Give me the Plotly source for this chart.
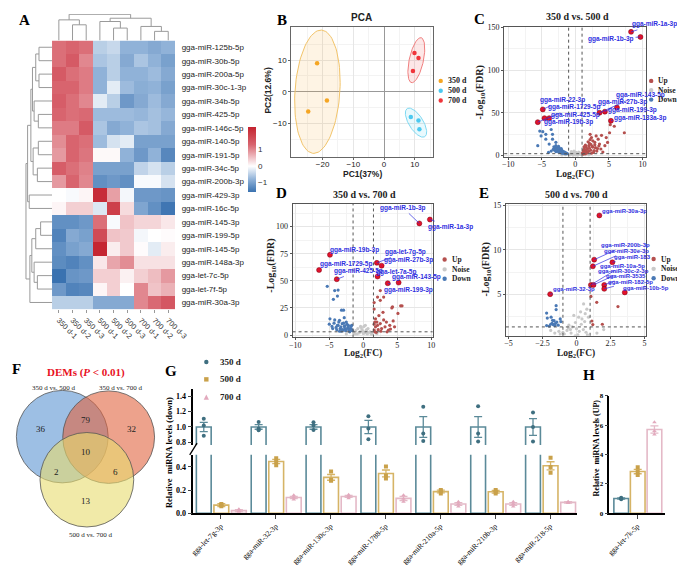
import plotly.graph_objects as go
import numpy as np

W, H = 685, 566
SERIF = "Liberation Serif"
SANS = "Liberation Sans"


def fx(p):
    return p / W


def fy(p):
    return 1 - p / H


# ===================== DATA =====================
# --- A: heatmap ---
heat_rows = ["gga-miR-125b-5p", "gga-miR-30b-5p", "gga-miR-200a-5p", "gga-miR-30c-1-3p",
             "gga-miR-34b-5p", "gga-miR-425-5p", "gga-miR-146c-5p", "gga-miR-140-5p",
             "gga-miR-191-5p", "gga-miR-34c-5p", "gga-miR-200b-3p", "gga-miR-429-3p",
             "gga-miR-16c-5p", "gga-miR-145-3p", "gga-miR-199-5p", "gga-miR-145-5p",
             "gga-miR-148a-3p", "gga-let-7c-5p", "gga-let-7f-5p", "gga-miR-30a-3p"]
heat_cols = ["350 d-1", "350 d-2", "350 d-3", "500 d-1", "500 d-2", "500 d-3",
             "700 d-1", "700 d-2", "700 d-3"]
heat_z = [
    [1.2, 1.3, 1.2, -0.5, -0.4, -0.8, -0.8, -0.9, -0.8],
    [1.2, 1.45, 1.0, -0.6, -0.5, -0.9, -0.6, -0.8, -1.0],
    [1.45, 1.2, 1.1, -0.8, -0.5, -0.8, -0.8, -0.7, -0.9],
    [1.3, 1.3, 1.1, -0.8, -0.2, -0.7, -0.85, -0.8, -1.0],
    [1.4, 1.2, 1.0, -0.2, -0.5, -1.1, -0.9, -0.7, -0.9],
    [1.3, 1.2, 1.25, -0.7, -0.7, -0.7, -0.75, -0.65, -0.75],
    [1.1, 1.1, 1.45, -0.6, -0.9, -0.8, -0.6, -0.65, -0.9],
    [0.95, 1.3, 1.2, -0.7, -0.3, -0.2, -1.0, -1.0, -1.0],
    [0.85, 1.3, 1.15, 0.05, 0.05, -0.8, -1.1, -0.8, -1.3],
    [1.4, 1.2, 1.05, -1.0, -1.0, -1.0, -0.45, -0.3, -0.5],
    [0.85, 1.3, 1.0, -1.2, -1.1, -1.2, -0.05, -0.05, -0.3],
    [0.0, -0.05, 0.08, 2.2, 0.8, -0.08, -1.1, -1.1, -1.15],
    [0.08, 0.4, 0.4, -0.25, 1.9, 0.3, -0.95, -1.2, -1.5],
    [-1.2, -1.2, -1.1, 1.2, -0.05, 0.5, 0.35, 0.35, 0.2],
    [-1.35, -0.9, -1.0, 1.7, 0.5, 0.45, -0.08, 0.0, 0.03],
    [-1.2, -1.0, -0.9, 2.3, 0.15, 0.45, 0.03, -0.2, 0.15],
    [-1.25, -1.35, -1.2, 0.2, 0.75, 0.95, 0.25, 0.25, 0.25],
    [-1.55, -1.15, -1.1, 0.4, 0.4, 0.12, 0.4, 0.55, 0.85],
    [-1.1, -1.35, -1.3, 0.08, 0.4, 0.0, 1.0, 0.5, 0.65],
    [-0.5, -0.5, -0.5, -0.9, -0.9, -0.9, 1.0, 1.25, 1.5],
]
# dendrogram merges: (child_a, child_b, height); ints = leaves, "nK" = K-th merge
col_merges = [(1, 2, 48), (0, "n0", 63), (4, 5, 38), (3, "n2", 58), (7, 8, 28),
              (6, "n4", 43), ("n3", "n5", 68), ("n1", "n6", 80)]
row_merges = [(0, 1, 40), (2, 3, 40), ("n0", "n1", 50), (5, 6, 42), (4, "n3", 55),
              ("n2", "n4", 60), (7, 8, 42), (9, 10, 45), ("n6", "n7", 58), ("n5", "n8", 65),
              (11, 12, 70), ("n9", "n10", 75), (13, 14, 35), ("n12", 15, 50), (17, 18, 45),
              (16, "n14", 55), ("n13", "n15", 62), ("n16", 19, 68), ("n11", "n17", 80)]

# --- B: PCA ---
pca_groups = ["350 d", "500 d", "700 d"]
pca_pc1 = {"350 d": [-21.8, -18.6, -24.7], "500 d": [8.7, 11.2, 11.5], "700 d": [9.9, 11.2, 9.4]}
pca_pc2 = {"350 d": [9.0, -2.8, -6.25], "500 d": [-8.0, -9.1, -11.9], "700 d": [12.3, 10.7, 6.6]}
# ellipse: centre x, centre y, semi-major, semi-minor, angle (deg)
pca_ellipse = {"350 d": (-21.7, 0.0, 19.6, 7.3, 86), "500 d": (10.4, -9.8, 5.3, 2.3, 123),
               "700 d": (10.5, 10.0, 7.3, 2.3, 77.5)}

# --- C: 350 d vs 500 d ---
C_up_x = [1.2, 1.4, 1.6, 1.8, 2.0, 2.2, 2.4, 2.6, 2.9, 3.1, 3.4, 3.6, 3.9, 4.4, 4.6, 4.8, 5.1, 5.2,
          5.8, 7.3, 1.1, 1.3, 1.5, 1.7, 1.9, 2.1, 2.3, 2.5, 2.7, 3.0, 3.2, 3.5, 3.8, 4.1, 1.2, 1.5,
          1.8, 2.1, 2.4, 2.8, 3.3, 1.3, 1.6, 2.0, 2.3, 2.6, 1.1, 1.4, 2.2, 2.9]
C_up_y = [5.7, 3.8, 9.5, 7.6, 11.4, 24.7, 20.9, 17.1, 15.2, 22.8, 19.0, 13.3, 23.6, 11.4, 20.9,
          15.2, 26.6, 36.1, 34.2, 26.6, 2.5, 7.0, 12.0, 4.5, 16.0, 8.5, 6.0, 10.5, 3.5, 9.0, 5.0,
          11.0, 7.5, 4.0, 1.5, 2.0, 3.0, 14.0, 2.5, 5.5, 8.0, 10.0, 6.5, 4.8, 13.0, 9.8, 3.2, 4.2,
          18.5, 12.5]
C_down_x = [-5.6, -5.3, -5.1, -4.85, -4.4, -3.6, -3.4, -3.4, -3.9, -2.9, -4.4, -3.2, -3.0, -2.8,
            -2.6, -2.4, -2.2, -2.0, -1.8, -1.6, -1.4, -3.1, -2.9, -2.7, -2.5, -2.3, -2.1, -1.9,
            -1.7, -1.5, -3.3, -2.8, -2.6, -2.4, -2.2, -2.0, -1.8, -1.3, -2.5, -2.9, -2.1, -1.6,
            -3.6, -4.0, -1.2]
C_down_y = [11.4, 28.5, 22.8, 27.8, 19.0, 30.4, 24.7, 19.0, 13.3, 15.3, 24.7, 10.0, 9.0, 8.0,
            7.5, 6.5, 5.5, 5.0, 4.5, 3.5, 3.0, 6.0, 4.5, 5.5, 4.0, 3.5, 3.0, 2.5, 2.5, 2.0, 7.0,
            7.0, 9.5, 8.5, 7.0, 6.0, 3.5, 2.0, 10.5, 11.5, 8.0, 4.0, 5.0, 3.5, 2.2]
C_noise_x = [-0.9, -0.7, -0.5, -0.3, -0.1, 0.1, 0.3, 0.5, 0.7, 0.9, -0.8, -0.4, 0.0, 0.4, 0.8,
             -0.6, -0.2, 0.2, 0.6, -1.5, 1.5, -2.0, 2.0, -0.3, 0.3]
C_noise_y = [1.0, 2.0, 1.5, 3.0, 2.5, 3.5, 2.0, 4.0, 1.5, 2.5, 0.5, 0.8, 1.2, 0.6, 1.0, 4.5, 5.0,
             1.8, 3.2, 0.8, 1.0, 0.5, 0.6, 0.3, 0.2]
C_lab = ["gga-miR-1a-3p", "gga-miR-1b-3p", "gga-miR-22-3p", "gga-miR-1729-5p", "gga-miR-425-5p",
         "gga-miR-19b-3p", "gga-miR-143-5p", "gga-miR-27b-3p", "gga-miR-199-3p", "gga-miR-133a-3p"]
C_lab_x = [8.3, 9.7, -4.85, -5.6, -3.9, -4.6, 3.6, 4.4, 6.2, 5.3]
C_lab_y = [145, 139, 54, 39, 43.7, 43.7, 50, 51.3, 56.3, 40.6]
C_txt_x = [11.86, 5.32, -1.95, -0.25, 0.0, -0.97, 9.68, 7.02, 8.47, 9.68]
C_txt_y = [153.8, 136.7, 64.6, 56.3, 47.5, 38.7, 71.4, 62.6, 53.2, 43.7]
C_fc, C_fdr = 1.0, 2.0

# --- D: 350 d vs 700 d ---
D_up_x = [1.6, 1.6, 2.1, 2.5, 4.3, 5.5, 5.1, 1.8, 2.0, 2.5, 3.0, 3.4, 3.9, 4.4, 4.6, 1.8, 1.6, 2.7,
          3.2, 3.7, 2.5, 3.0, 4.2, 5.7, 1.7, 1.9, 2.2, 2.6, 3.5, 4.0, 1.6, 2.3, 2.9, 1.7, 2.1]
D_up_y = [30, 24, 35, 32, 26, 27, 20, 15, 12, 10.6, 14, 12, 9, 13, 7.6, 7.6, 4.6, 6, 7.6, 4.6, 41,
          35, 25, 27, 3, 2.5, 5, 3.5, 3, 5.5, 10, 18, 21, 12, 9]
D_down_x = [-5.3, -4.2, -3.7, -4.4, -3.8, -3.2, -2.9, -4.9, -4.2, -3.5, -2.8, -5.0, -4.6, -4.3,
            -4.0, -3.7, -3.4, -3.1, -2.8, -2.5, -2.2, -1.9, -1.7, -3.9, -3.6, -3.3, -3.0, -2.7,
            -2.4, -2.1, -1.8, -3.5, -3.1, -2.6, -2.3, -2.0, -1.6, -4.5, -3.8, -2.9, -2.5, -2.2,
            -1.9, -1.7, -3.2, -2.7]
D_down_y = [45, 41, 41.5, 33, 36, 23, 23, 15, 14, 13.6, 16, 10, 8, 11, 7, 9, 6, 10.5, 8, 12, 9, 6,
            5, 5, 12, 7.5, 4.6, 6, 10, 5, 8, 3.5, 5, 4, 6.5, 3, 4, 6, 9, 11, 5, 7.5, 4, 9, 3.5, 8.5]
D_noise_x = [-1.4, -1.1, -0.8, -0.5, -0.2, 0.1, 0.4, 0.7, 1.0, 1.3, -1.2, -0.6, 0.0, 0.6, 1.2, -0.9,
             -0.3, 0.3, 0.9, -2.5, 2.0, -0.1, 0.2, 0.5, -0.4]
D_noise_y = [2, 4, 6, 3, 5, 8, 4, 6, 3, 2, 1, 2, 1.5, 1, 0.8, 1, 7, 9, 2.5, 1, 1.2, 3.5, 2, 5, 8]
D_lab = ["gga-miR-1b-3p", "gga-miR-1a-3p", "gga-miR-19b-3p", "gga-miR-1729-5p", "gga-miR-425-5p",
         "gga-let-7g-5p", "gga-miR-27b-3p", "gga-let-7a-5p", "gga-miR-143-5p", "gga-miR-199-3p"]
D_lab_x = [8.25, 9.8, -4.9, -6.5, -3.9, 2.0, 2.7, 2.1, 5.2, 3.6]
D_lab_y = [103, 106.6, 74, 60, 51.5, 66.6, 64, 54, 48.4, 47.8]
D_txt_x = [5.86, 12.9, -1.34, -2.55, -0.72, 6.19, 6.58, 4.75, 7.77, 6.58]
D_txt_y = [117.3, 100, 78.7, 65.1, 59.1, 76.6, 69.1, 58.5, 53.6, 41.8]
D_fc, D_fdr = 1.5, 3.0

# --- E: 500 d vs 700 d ---
E_up_x = [1.06, 1.49, 3.05, 1.13, 1.2, 1.9]
E_up_y = [4.74, 4.08, 3.6, 1.97, 1.56, 1.6]
E_down_x = [-2.2, -2.15, -1.5, -1.5, -1.87, -1.76, -1.2, -2.2, -2.0, -1.8, -1.7, -1.55, -1.45,
            -1.35, -1.6, -1.15, -1.9, -1.65]
E_down_y = [2.86, 2.3, 3.7, 3.26, 2.4, 2.05, 2.2, 1.45, 1.4, 1.7, 1.55, 1.7, 1.85, 1.5, 1.45, 1.9,
            1.6, 2.0]
E_noise_x = [0.52, 0.76, 0.64, 0.4, -0.08, 0.16, 0.88, -0.56, -0.32, 0.3, 0.6, -0.2, 0.0, -0.7,
             -1.0, -1.3, -1.6, -1.9, -0.9, -0.4, 0.2, 0.5, 0.8, -0.6, -1.2, 0.1, 0.7, -0.1, 0.35,
             -0.45, 1.5, 2.0]
E_noise_y = [3.9, 3.3, 2.8, 2.2, 1.8, 2.4, 2.4, 1.5, 1.3, 3.0, 1.9, 2.6, 1.1, 0.9, 0.7, 0.8, 0.6,
             0.9, 0.5, 0.6, 0.8, 1.0, 0.4, 1.2, 0.5, 0.4, 0.7, 0.3, 1.6, 1.0, 0.6, 1.0]
E_lab = ["gga-miR-30a-3p", "gga-miR-200b-3p", "gga-miR-30e-3p", "gga-miR-183", "gga-miR-10a-5p",
         "gga-miR-30c-2-3p", "gga-miR-3535", "gga-miR-182-5p", "gga-miR-10b-5p", "gga-miR-32-3p"]
E_lab_x = [1.68, 1.3, 1.2, 2.64, 1.06, 1.25, 2.04, 2.04, 3.55, -1.94]
E_lab_y = [13.9, 8.9, 8.15, 8.6, 6.05, 6.05, 6.05, 5.6, 5.2, 5.0]
E_txt_x = [3.53, 3.6, 3.65, 4.13, 3.36, 3.45, 3.65, 4.0, 5.13, -0.19]
E_txt_y = [14.4, 10.5, 9.85, 9.2, 8.2, 7.6, 7.0, 6.4, 5.67, 5.56]
E_fc, E_fdr = 1.0, 1.3

# --- F: Venn ---
venn_sets = ["350 d vs. 500 d", "350 d vs. 700 d", "500 d vs. 700 d"]
venn_counts = {"A": 36, "B": 32, "C": 13, "AB": 79, "AC": 2, "BC": 6, "ABC": 10}

# --- G: qPCR (down) ---
G_cats = ["gga-let-7g-3p", "gga-miR-32-3p", "gga-miR-130c-3p", "gga-miR-1788-5p",
          "gga-miR-210a-5p", "gga-miR-210b-3p", "gga-miR-218-5p"]
G_groups = ["350 d", "500 d", "700 d"]
G_mean = {"350 d": [1.0, 1.0, 1.0, 1.0, 1.0, 1.0, 1.0],
          "500 d": [0.07, 0.447, 0.31, 0.344, 0.187, 0.185, 0.41],
          "700 d": [0.022, 0.136, 0.145, 0.128, 0.079, 0.079, 0.094]}
G_sem = {"350 d": [0.06, 0.03, 0.03, 0.087, 0.135, 0.135, 0.11],
         "500 d": [0.012, 0.018, 0.025, 0.03, 0.012, 0.012, 0.035],
         "700 d": [0.008, 0.01, 0.008, 0.018, 0.012, 0.012, 0.006]}
G_pts = {"350 d": [[1.108, 1.02, 0.885], [1.064, 0.98, 0.958], [1.06, 1.02, 0.96],
                   [1.14, 0.98, 0.84], [1.265, 0.915, 0.817], [1.27, 0.915, 0.81],
                   [1.19, 1.0, 0.81]],
         "500 d": [[0.08, 0.07, 0.06], [0.476, 0.442, 0.414], [0.36, 0.29, 0.28],
                   [0.405, 0.326, 0.30], [0.2, 0.19, 0.17], [0.2, 0.185, 0.17],
                   [0.48, 0.40, 0.35]],
         "700 d": [[0.035, 0.02, 0.012], [0.156, 0.135, 0.118], [0.16, 0.145, 0.13],
                   [0.155, 0.125, 0.1], [0.1, 0.08, 0.058], [0.1, 0.08, 0.058],
                   [0.1, 0.095, 0.088]]}

# --- H: qPCR (up) ---
H_cat = "gga-let-7k-5p"
H_mean = [1.0, 2.84, 5.7]
H_sem = [0.04, 0.15, 0.25]
H_pts = [[1.06, 1.0, 0.95], [3.13, 2.85, 2.6], [6.2, 5.6, 5.37]]

# ===================== STYLE =====================
PCA_COL = {"350 d": "#f5a623", "500 d": "#4cc9f0", "700 d": "#f0343a"}
PCA_FILL = {"350 d": "rgba(245,170,50,0.13)", "500 d": "rgba(80,205,240,0.13)",
            "700 d": "rgba(240,70,70,0.13)"}
PCA_LINE = {"350 d": "#f2c46a", "500 d": "#7fd9f2", "700 d": "#f07f7f"}
UP_C, DOWN_C, NOISE_C, LAB_C = "#b5504e", "#4a79b5", "#c9c9c9", "#e3122b"
BLUE_T = "#2f2fe0"
G_LINE = {"350 d": "#5b8a99", "500 d": "#d6b466", "700 d": "#e4b9c7"}
G_PT = {"350 d": "#3f6f80", "500 d": "#c9a14a", "700 d": "#e2a9bd"}
G_SYM = {"350 d": "circle", "500 d": "square", "700 d": "triangle-up"}

fig = go.Figure()
ann = []
shapes = []


def text(x, y, s, size=9, family=SERIF, color="black", bold=False, anchor="center", angle=0):
    ann.append(dict(xref="paper", yref="paper", x=fx(x), y=fy(y), text=s, showarrow=False,
                    xanchor=anchor, yanchor="middle", textangle=angle,
                    font=dict(family=family, size=size, color=color,
                              weight="bold" if bold else "normal")))


def mark(x, y, col, sym="circle", r=2.2):
    base = dict(xref="paper", yref="paper", xsizemode="pixel", ysizemode="pixel",
                xanchor=fx(x), yanchor=fy(y), fillcolor=col, line=dict(width=0), layer="above")
    if sym == "circle":
        base.update(type="circle", x0=-r, x1=r, y0=-r, y1=r)
    elif sym == "square":
        base.update(type="rect", x0=-r, x1=r, y0=-r, y1=r)
    else:
        base.update(type="path", path="M %.1f,%.1f L %.1f,%.1f L 0,%.1f Z" % (-r * 1.2, -r, r * 1.2, -r, r * 1.3))
    shapes.append(base)


# ===================== A: heatmap =====================
fz0 = 1.55 / 3.9
fig.add_trace(go.Heatmap(
    z=heat_z, x=list(range(9)), y=list(range(20)), xaxis="x", yaxis="y",
    zmin=-1.55, zmax=2.35,
    colorscale=[[0, "#3a72b0"], [fz0 * 0.5, "#93b4d9"], [fz0, "#ffffff"],
                [fz0 + (1 - fz0) * 0.55, "#d8646e"], [1, "#c4232f"]],
    colorbar=dict(x=fx(243), xanchor="left", y=fy(149.5), yanchor="middle", len=65,
                  lenmode="pixels", thickness=8, thicknessmode="pixels", outlinewidth=0,
                  tickvals=[-1, 0, 1], ticks="", xpad=0, ypad=0,
                  tickfont=dict(family=SANS, size=8, color="#333")),
    hoverinfo="skip"))


def dendro(merges, n):
    pos = {i: float(i) for i in range(n)}
    hgt = {i: 0.0 for i in range(n)}
    P, Hh = [], []
    for k, (a, b, h) in enumerate(merges):
        pa, pb, ha, hb = pos[a], pos[b], hgt[a], hgt[b]
        P += [pa, pa, pb, pb, None]
        Hh += [ha, h, h, hb, None]
        pos["n%d" % k] = (pa + pb) / 2
        hgt["n%d" % k] = h
    return P, Hh


cp, ch = dendro(col_merges, 9)
fig.add_trace(go.Scatter(x=cp, y=ch, xaxis="x2", yaxis="y2", mode="lines",
                         line=dict(color="#9a9a9a", width=1), hoverinfo="skip"))
rp, rh = dendro(row_merges, 20)
fig.add_trace(go.Scatter(x=rh, y=rp, xaxis="x3", yaxis="y3", mode="lines",
                         line=dict(color="#9a9a9a", width=1), hoverinfo="skip"))

# ===================== B: PCA =====================
t = np.linspace(0, 2 * np.pi, 100)
for g in pca_groups:
    cx, cy, a, b, ang = pca_ellipse[g]
    th = np.deg2rad(ang)
    ex = cx + a * np.cos(t) * np.cos(th) - b * np.sin(t) * np.sin(th)
    ey = cy + a * np.cos(t) * np.sin(th) + b * np.sin(t) * np.cos(th)
    fig.add_trace(go.Scatter(x=ex, y=ey, xaxis="x4", yaxis="y4", mode="lines", fill="toself",
                             fillcolor=PCA_FILL[g], line=dict(color=PCA_LINE[g], width=1),
                             hoverinfo="skip"))
for g in pca_groups:
    fig.add_trace(go.Scatter(x=pca_pc1[g], y=pca_pc2[g], xaxis="x4", yaxis="y4", mode="markers",
                             marker=dict(color=PCA_COL[g], size=4.5), name=g))


# ===================== C/D/E: volcanoes =====================
def volcano(k, upx, upy, dx, dy, nx, ny, lab, lx, ly, tx, ty, fsize=6.5):
    xa, ya = "x%d" % k, "y%d" % k
    fig.add_trace(go.Scatter(x=nx, y=ny, xaxis=xa, yaxis=ya, mode="markers",
                             marker=dict(color=NOISE_C, size=3.2), name="Noise"))
    fig.add_trace(go.Scatter(x=upx, y=upy, xaxis=xa, yaxis=ya, mode="markers",
                             marker=dict(color=UP_C, size=3.2), name="Up"))
    fig.add_trace(go.Scatter(x=dx, y=dy, xaxis=xa, yaxis=ya, mode="markers",
                             marker=dict(color=DOWN_C, size=3.2), name="Down"))
    fig.add_trace(go.Scatter(x=lx, y=ly, xaxis=xa, yaxis=ya, mode="markers",
                             marker=dict(color=LAB_C, size=5, line=dict(color="#7a0010", width=0.5)),
                             hoverinfo="skip"))
    for s, px_, py_, tx_, ty_ in zip(lab, lx, ly, tx, ty):
        ann.append(dict(xref=xa, yref=ya, x=px_, y=py_, axref=xa, ayref=ya, ax=tx_, ay=ty_,
                        text=s, showarrow=True, arrowhead=0, arrowwidth=0.7,
                        arrowcolor=BLUE_T, standoff=0, startstandoff=0,
                        font=dict(family=SANS, size=fsize, color=BLUE_T, weight="bold")))


volcano(5, C_up_x, C_up_y, C_down_x, C_down_y, C_noise_x, C_noise_y, C_lab, C_lab_x, C_lab_y,
        C_txt_x, C_txt_y)
volcano(6, D_up_x, D_up_y, D_down_x, D_down_y, D_noise_x, D_noise_y, D_lab, D_lab_x, D_lab_y,
        D_txt_x, D_txt_y)
volcano(7, E_up_x, E_up_y, E_down_x, E_down_y, E_noise_x, E_noise_y, E_lab, E_lab_x, E_lab_y,
        E_txt_x, E_txt_y, fsize=6)

for k, fc, fdr in [(5, C_fc, C_fdr), (6, D_fc, D_fdr), (7, E_fc, E_fdr)]:
    for v in (-fc, fc):
        shapes.append(dict(type="line", xref="x%d" % k, yref="y%d domain" % k, x0=v, x1=v, y0=0,
                           y1=1, line=dict(color="#555", width=1, dash="dot")))
    shapes.append(dict(type="line", xref="x%d domain" % k, yref="y%d" % k, x0=0, x1=1, y0=fdr,
                       y1=fdr, line=dict(color="#555", width=1, dash="dot")))

# ===================== F: Venn =====================
venn_circles = [(52.5, 431.5, 47, "rgba(92,148,210,0.6)"),
                (100.0, 432.0, 47, "rgba(225,100,63,0.6)"),
                (77.7, 475.3, 48, "rgba(232,220,110,0.6)")]
for cx, cy, r, col in venn_circles:
    shapes.append(dict(type="circle", xref="x8", yref="y8", x0=cx - r, x1=cx + r, y0=cy - r,
                       y1=cy + r, fillcolor=col, line=dict(color="#555", width=0.8)))
venn_pos = {"A": (30.7, 423.3), "AB": (77.3, 415), "B": (123.3, 423.3), "ABC": (77.3, 447.3),
            "AC": (46.7, 467.7), "BC": (107.3, 467.7), "C": (77.3, 497.3)}
for key, (vx, vy) in venn_pos.items():
    ann.append(dict(xref="x8", yref="y8", x=vx, y=vy, text=str(venn_counts[key]), showarrow=False,
                    font=dict(family=SERIF, size=9, color="#222")))
text(43.3, 381.7, venn_sets[0], 7, color="#222")
text(111.7, 381.7, venn_sets[1], 7, color="#222")
text(81.7, 531.7, venn_sets[2], 7, color="#222")
text(76.7, 366, "DEMs (<i>P</i> &lt; 0.01)", 11, color="#e8101e", bold=True)

# ===================== G: bars with broken axis =====================
G_off = {"350 d": -0.31, "500 d": 0.01, "700 d": 0.33}
BW = 0.27
for xa, ya in [("x9", "y9"), ("x10", "y10")]:
    for g in G_groups:
        xs = [i + G_off[g] for i in range(len(G_cats))]
        fig.add_trace(go.Bar(x=xs, y=G_mean[g], width=BW, xaxis=xa, yaxis=ya,
                             marker=dict(color="rgba(255,255,255,0)",
                                         line=dict(color=G_LINE[g], width=1.6)),
                             error_y=dict(type="data", array=G_sem[g], color=G_LINE[g],
                                          thickness=1.3, width=4),
                             hoverinfo="skip"))
    for g in G_groups:
        px_list, py_list = [], []
        for i, pts in enumerate(G_pts[g]):
            for v in pts:
                px_list.append(i + G_off[g])
                py_list.append(v)
        fig.add_trace(go.Scatter(x=px_list, y=py_list, xaxis=xa, yaxis=ya, mode="markers",
                                 marker=dict(color=G_PT[g], size=4, symbol=G_SYM[g]),
                                 hoverinfo="skip"))

# ===================== H =====================
H_x = [0.211, 0.506, 0.805]
HBW = 0.262
for j, g in enumerate(G_groups):
    fig.add_trace(go.Bar(x=[H_x[j]], y=[H_mean[j]], width=HBW, xaxis="x11", yaxis="y11",
                         marker=dict(color="rgba(255,255,255,0)",
                                     line=dict(color=G_LINE[g], width=1.6)),
                         error_y=dict(type="data", array=[H_sem[j]], color=G_LINE[g],
                                      thickness=1.3, width=4),
                         hoverinfo="skip"))
    fig.add_trace(go.Scatter(x=[H_x[j]] * len(H_pts[j]), y=H_pts[j], xaxis="x11", yaxis="y11",
                             mode="markers", marker=dict(color=G_PT[g], size=4, symbol=G_SYM[g]),
                             hoverinfo="skip"))

# ===================== AXES =====================
hidden = dict(visible=False, showgrid=False, zeroline=False)


def vol_axes(xdom, ydom, xr, yr, xt, yt, xminor, yminor, font=SERIF, frame="#555"):
    common = dict(showline=True, mirror=True, linecolor=frame, linewidth=1, showgrid=True,
                  gridcolor="#e6e6e6", gridwidth=0.8, zeroline=False, ticks="outside", ticklen=2,
                  tickcolor=frame, tickfont=dict(family=font, size=8, color="#222"))
    xa = dict(domain=xdom, range=xr, tickvals=xt, ticklabelstandoff=-2,
              minor=dict(tickvals=xminor, showgrid=True, gridcolor="#f3f3f3", ticks=""), **common)
    ya = dict(domain=ydom, range=yr, tickvals=yt,
              minor=dict(tickvals=yminor, showgrid=True, gridcolor="#f3f3f3", ticks=""), **common)
    return xa, ya


lay = dict(
    width=W, height=H, margin=dict(l=0, r=0, t=0, b=0), autosize=False,
    paper_bgcolor="white", plot_bgcolor="white", showlegend=False, barmode="overlay",
    xaxis=dict(domain=[fx(42), fx(168)], range=[-0.5, 8.5], tickvals=list(range(9)),
               ticktext=heat_cols, tickangle=45, ticks="outside", ticklen=3, tickcolor="#999",
               showgrid=False, zeroline=False, showline=False, anchor="y",
               tickfont=dict(family=SANS, size=7.5, color="#333")),
    yaxis=dict(domain=[fy(302), fy(29)], range=[19.5, -0.5], tickvals=list(range(20)),
               ticktext=heat_rows, side="right", ticks="outside", ticklen=4,
               tickcolor="rgba(0,0,0,0)", showgrid=False, zeroline=False, anchor="x",
               tickfont=dict(family=SANS, size=8, color="#222")),
    xaxis2=dict(domain=[fx(42), fx(168)], range=[-0.5, 8.5], anchor="y2", **hidden),
    yaxis2=dict(domain=[fy(29), fy(2)], range=[0, 81], anchor="x2", **hidden),
    xaxis3=dict(domain=[fx(14), fx(42)], range=[84, 0], anchor="y3", **hidden),
    yaxis3=dict(domain=[fy(302), fy(29)], range=[19.5, -0.5], anchor="x3", **hidden),
)

xa4, ya4 = vol_axes([fx(287), fx(432)], [fy(147), fy(15)], [-30.2, 15.9], [-20.6, 20.6],
                    [-20, -10, 0, 10], [-10, 0, 10], [-25, -15, -5, 5, 15], [-15, -5, 5, 15],
                    font=SANS, frame="#666")
xa4.update(zeroline=True, zerolinecolor="#999", zerolinewidth=1, anchor="y4")
ya4.update(zeroline=True, zerolinecolor="#999", zerolinewidth=1, anchor="x4")
lay["xaxis4"], lay["yaxis4"] = xa4, ya4

xa5, ya5 = vol_axes([fx(505), fx(650)], [fy(147), fy(15)], [-10.6, 10.5], [-1.5, 151],
                    [-10, -5, 0, 5, 10], [0, 50, 100, 150], [-7.5, -2.5, 2.5, 7.5], [25, 75, 125])
xa5["anchor"], ya5["anchor"] = "y5", "x5"
lay["xaxis5"], lay["yaxis5"] = xa5, ya5

xa6, ya6 = vol_axes([fx(288.3), fx(431.7)], [fy(330.7), fy(195)], [-10.4, 10.2], [-2.2, 121],
                    [-10, -5, 0, 5, 10], [0, 25, 50, 75, 100], [-7.5, -2.5, 2.5, 7.5],
                    [12.5, 37.5, 62.5, 87.5, 112.5])
xa6["anchor"], ya6["anchor"] = "y6", "x6"
lay["xaxis6"], lay["yaxis6"] = xa6, ya6

xa7, ya7 = vol_axes([fx(506.7), fx(650)], [fy(329), fy(195)], [-5.2, 5.1], [0.3, 15.2],
                    [-5, -2.5, 0, 2.5, 5], [5, 10, 15], [-3.75, -1.25, 1.25, 3.75],
                    [2.5, 7.5, 12.5])
xa7["anchor"], ya7["anchor"] = "y7", "x7"
lay["xaxis7"], lay["yaxis7"] = xa7, ya7

lay["xaxis8"] = dict(domain=[0, fx(150)], range=[0, 150], anchor="y8", **hidden)
lay["yaxis8"] = dict(domain=[fy(535), fy(375)], range=[535, 375], anchor="x8", **hidden)

bar_tick = dict(family=SERIF, size=8, color="black", weight="bold")
lay["xaxis9"] = dict(domain=[fx(186.7), fx(580)], range=[-0.5, 6.5], anchor="y9",
                     tickvals=list(range(len(G_cats))), ticktext=G_cats, tickangle=-45,
                     showline=True, linecolor="black", linewidth=1.5, ticks="outside", ticklen=4,
                     tickwidth=1.2, showgrid=False, zeroline=False,
                     tickfont=dict(family=SERIF, size=7.5, color="black"))
lay["yaxis9"] = dict(domain=[fy(509.3), fy(450)], range=[0, 0.505], anchor="x9",
                     tickvals=[0.0, 0.2, 0.4], ticktext=["0.0", "0.2", "0.4"], showline=True,
                     linecolor="black", linewidth=1.5, ticks="outside", ticklen=4, tickwidth=1.2,
                     showgrid=False, zeroline=False, tickfont=bar_tick)
lay["xaxis10"] = dict(domain=[fx(186.7), fx(580)], range=[-0.5, 6.5], anchor="y10", **hidden)
lay["yaxis10"] = dict(domain=[fy(440), fy(383)], range=[0.765, 1.496], anchor="x10",
                      tickvals=[0.8, 1.0, 1.2, 1.4], ticktext=["0.8", "1.0", "1.2", "1.4"],
                      showline=True, linecolor="black", linewidth=1.5, ticks="outside",
                      ticklen=4, tickwidth=1.2, showgrid=False, zeroline=False,
                      tickfont=bar_tick)
lay["xaxis11"] = dict(domain=[fx(612.7), fx(670)], range=[0, 1], anchor="y11", tickvals=[0.5],
                      ticktext=[H_cat], tickangle=-45, showline=True, linecolor="black",
                      linewidth=1.5, ticks="outside", ticklen=4, tickwidth=1.2, showgrid=False,
                      zeroline=False, tickfont=dict(family=SERIF, size=7.5, color="black"))
lay["yaxis11"] = dict(domain=[fy(509.3), fy(390)], range=[0, 8], anchor="x11",
                      tickvals=[0, 2, 4, 6, 8], showline=True, linecolor="black", linewidth=1.5,
                      ticks="outside", ticklen=3, tickwidth=1.2, showgrid=False, zeroline=False,
                      tickfont=dict(family=SERIF, size=7, color="black", weight="bold"))

# break mark on G axis
shapes.append(dict(type="line", xref="paper", yref="paper", x0=fx(183), y0=fy(450), x1=fx(190.5),
                   y1=fy(438), line=dict(color="black", width=1.3)))

# ===================== TEXT =====================
for L, x, y in [("A", 14, 8), ("B", 277, 8), ("C", 480, 7), ("D", 277, 184), ("E", 484, 184),
                ("F", 6, 363), ("G", 164, 365), ("H", 592, 369)]:
    text(x, y, L, 15, bold=True)

text(359, 6, "PCA", 10, family=SANS, bold=True, color="#222")
text(360, 165, "PC1(37%)", 8.5, family=SANS, bold=True, color="#222")
text(263, 80, "PC2(12.6%)", 8.5, family=SANS, bold=True, color="#222", angle=-90)

for (tx_, ty_, ttl), (xx, xy), (yx, yy) in [
        ((580, 5, "350 d vs. 500 d"), (578, 165), (481, 82)),
        ((362, 185, "350 d vs. 700 d"), (360, 347), (267, 258)),
        ((579, 185, "500 d vs. 700 d"), (579, 347), (487, 262))]:
    text(tx_, ty_, ttl, 10, bold=True, color="#222")
    text(xx, xy, "Log<sub>2</sub>(FC)", 9.5, bold=True, color="#222")
    text(yx, yy, "-Log<sub>10</sub>(FDR)", 10, bold=True, color="#222", angle=-90)


# manual legends
def legend(items, mx, tx_, ys, size=8):
    for (lbl, col, sym), yy in zip(items, ys):
        mark(mx, yy, col, sym)
        text(tx_, yy, lbl, size, bold=True, color="#222", anchor="left")


legend([(g, PCA_COL[g], "circle") for g in pca_groups], 440, 445, [70, 80, 90])
vol_items = [("Up", UP_C, "circle"), ("Noise", NOISE_C, "circle"), ("Down", DOWN_C, "circle")]
legend(vol_items, 655.5, 660.5, [70, 79.5, 89], size=7.5)
legend(vol_items, 444, 449, [251.5, 261.5, 271], size=7.5)
legend(vol_items, 658, 663, [251, 261, 270.5], size=7.5)
legend([("350 d", G_PT["350 d"], "circle"), ("500 d", G_PT["500 d"], "square"),
        ("700 d", G_PT["700 d"], "triangle")], 200, 212, [355.7, 373.3, 391.7], size=9)

text(162, 448, "Relative  miRNA levels (down)", 8.5, bold=True, angle=-90)
text(599.5, 443, "Relative  miRNA levels (UP)", 8, bold=True, angle=-90)

lay["annotations"] = ann
lay["shapes"] = shapes
fig.update_layout(**lay)
fig.write_html("out.html")
